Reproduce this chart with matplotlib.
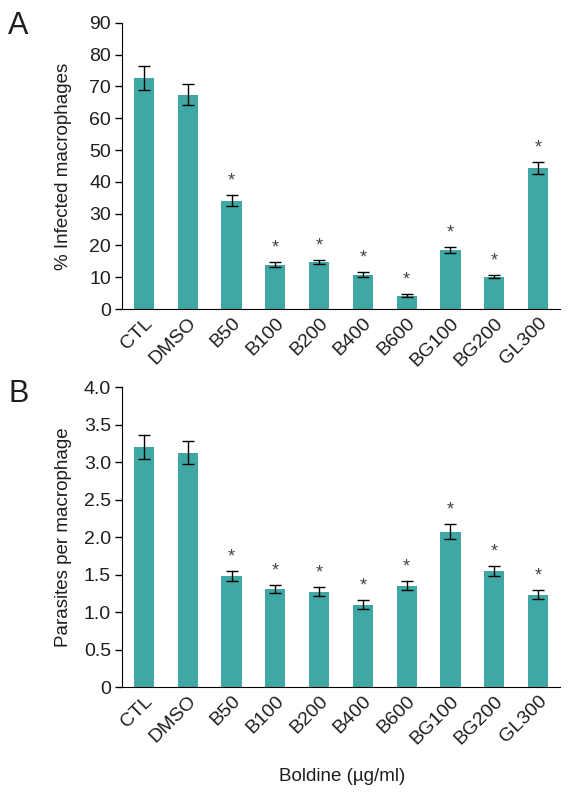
import matplotlib
matplotlib.use('Agg')
import matplotlib.pyplot as plt

plt.rcParams['font.family'] = ['Liberation Sans Narrow', 'Liberation Sans', 'DejaVu Sans']

groups = ["CTL", "DMSO", "B50", "B100", "B200", "B400", "B600", "BG100", "BG200", "GL300"]

# Panel A - % infected macrophages
infected = [72.6, 67.4, 34.1, 13.9, 14.7, 10.8, 4.2, 18.6, 10.2, 44.4]
infected_err = [3.7, 3.4, 1.6, 0.8, 0.6, 0.8, 0.4, 1.0, 0.5, 1.9]
infected_sig = [False, False, True, True, True, True, True, True, True, True]

# Panel B - parasites per macrophage
parasites = [3.20, 3.13, 1.48, 1.31, 1.27, 1.10, 1.35, 2.07, 1.55, 1.23]
parasites_err = [0.16, 0.155, 0.07, 0.055, 0.06, 0.065, 0.06, 0.10, 0.065, 0.06]
parasites_sig = [False, False, True, True, True, True, True, True, True, True]

bar_color = '#3fa7a4'
text_color = '#1e1e1e'

fig = plt.figure(figsize=(5.76, 7.95), dpi=100)
axA = fig.add_axes([0.212, 0.6113, 0.760, 0.360])
axB = fig.add_axes([0.212, 0.1358, 0.760, 0.377])


def draw_panel(ax, vals, errs, sig, ymax, yticks, yticklabels, ylabel):
    x = list(range(len(groups)))
    ax.bar(x, vals, width=0.46, color=bar_color, zorder=2)
    ax.errorbar(x, vals, yerr=errs, fmt='none', ecolor='black',
                elinewidth=1, capsize=4, capthick=1, zorder=3)
    for i in x:
        if sig[i]:
            ax.annotate('*', (i, vals[i] + errs[i]), xytext=(0, 4),
                        textcoords='offset points', ha='center', va='bottom',
                        fontsize=13, color='#444444')
    ax.set_xlim(-0.5, 9.5)
    ax.set_ylim(0, ymax)
    ax.set_yticks(yticks)
    ax.set_yticklabels(yticklabels, fontsize=14, color=text_color)
    ax.set_xticks(x)
    ax.set_xticklabels(groups, rotation=45, ha='right', va='top',
                       rotation_mode='anchor', fontsize=14, color=text_color)
    ax.tick_params(axis='x', length=0, pad=4)
    ax.tick_params(axis='y', direction='out', length=5, width=1, pad=3)
    ax.spines['top'].set_visible(False)
    ax.spines['right'].set_visible(False)
    ax.set_ylabel(ylabel, fontsize=13.5, color=text_color)
    ax.yaxis.set_label_coords(-0.115, 0.5)


draw_panel(axA, infected, infected_err, infected_sig, 90,
           range(0, 91, 10), [str(v) for v in range(0, 91, 10)],
           '% Infected macrophages')
draw_panel(axB, parasites, parasites_err, parasites_sig, 4.0,
           [0, 0.5, 1.0, 1.5, 2.0, 2.5, 3.0, 3.5, 4.0],
           ['0', '0.5', '1.0', '1.5', '2.0', '2.5', '3.0', '3.5', '4.0'],
           'Parasites per macrophage')

fig.text(0.032, 0.967, 'A', fontsize=22, ha='center', va='center', color=text_color)
fig.text(0.032, 0.505, 'B', fontsize=22, ha='center', va='center', color=text_color)
fig.text(0.594, 0.023, 'Boldine (\u00b5g/ml)', fontsize=13.5, ha='center', va='center',
         color=text_color)

plt.savefig('out.png', dpi=100)
